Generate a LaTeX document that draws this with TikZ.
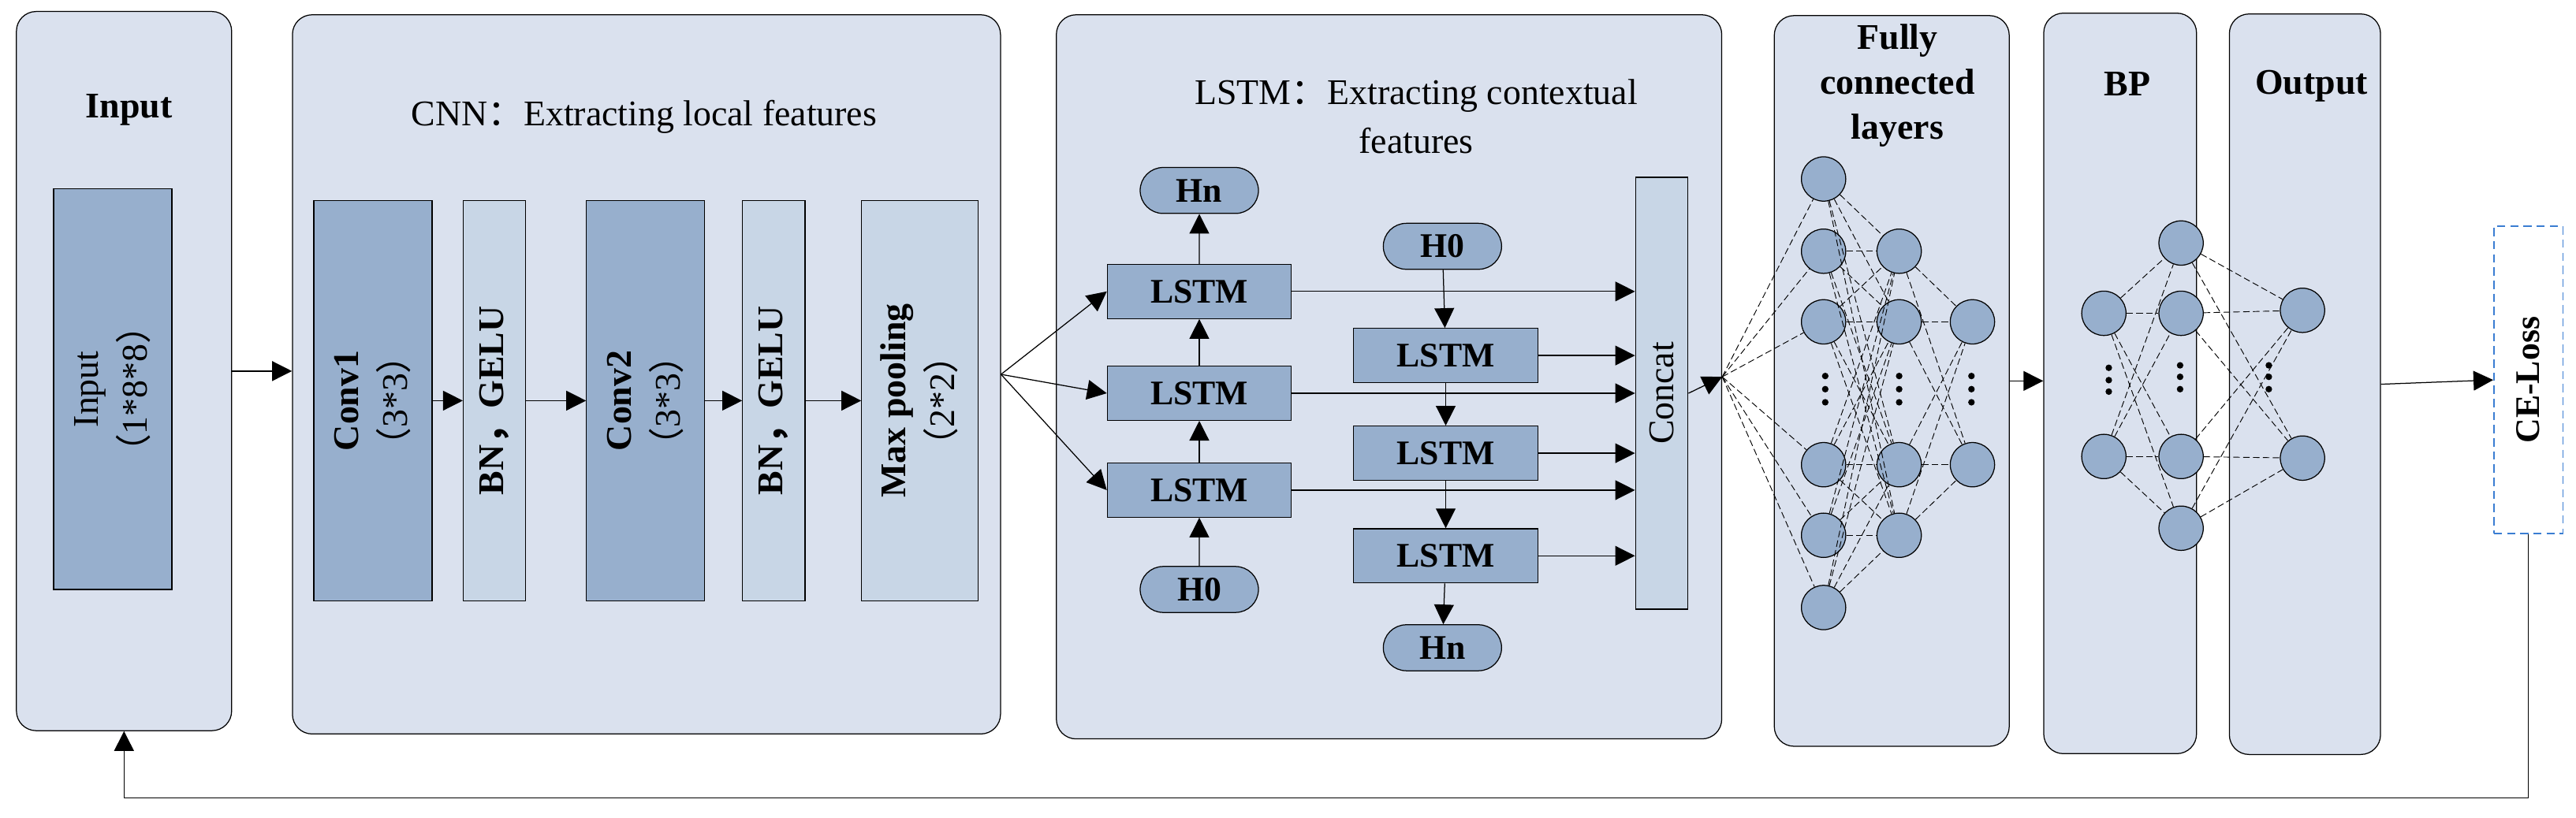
\documentclass[tikz,border=0pt]{standalone}
\usepackage{fontspec}
\setmainfont{Liberation Serif}
\newfontfamily\cjk{Noto Sans CJK SC}
\usepackage{graphicx}
\usepackage{xcolor}
\usepackage{tikz}
\usetikzlibrary{positioning, shapes, shapes.misc, arrows.meta, calc}

\definecolor{panelbg}{RGB}{218,225,238}
\definecolor{boxdark}{RGB}{151,175,205}
\definecolor{boxlight}{RGB}{200,214,230}
\definecolor{lossblue}{RGB}{58,125,210}

\newcommand{\zhcolon}{{\cjk ：}}
\newcommand{\zhcomma}{{\cjk ，}}
\newcommand{\zhlp}{{\cjk （}}
\newcommand{\zhrp}{{\cjk ）}}

\tikzset{
  panel/.style={draw, fill=panelbg, rounded corners=12pt, line width=0.6pt},
  darkbox/.style={draw, fill=boxdark, inner sep=0pt, line width=0.6pt, font=\fontsize{22}{30}\selectfont},
  lightbox/.style={draw, fill=boxlight, inner sep=0pt, line width=0.6pt, font=\fontsize{22}{30}\selectfont},
  lstmcell/.style={draw, fill=boxdark, minimum width=112pt, minimum height=33pt, inner sep=0pt, line width=0.6pt, font=\fontsize{21}{25}\selectfont\bfseries},
  hstate/.style={rounded rectangle, draw, fill=boxdark, minimum width=72pt, minimum height=28pt, inner sep=0pt, line width=0.6pt, font=\fontsize{21}{25}\selectfont\bfseries},
  neuron/.style={circle, draw, fill=boxdark, minimum size=27pt, inner sep=0pt, line width=0.6pt},
  conn/.style={dash pattern=on 4pt off 2pt, line width=0.45pt},
  arr/.style={-{Triangle[length=12pt,width=12pt]}, line width=0.6pt},
  paneltitle/.style={font=\fontsize{22}{27.5}\selectfont, align=center}
}

\begin{document}
\begin{tikzpicture}[x=1pt, y=-1pt]
  \useasboundingbox (0,0) rectangle (1568,498);

  % Panels
  \node[panel, minimum width=131pt, minimum height=438pt] (inpanel) at (75.5,226) {};
  \node[panel, minimum width=431pt, minimum height=438pt] (cnnpanel) at (393.5,228) {};
  \node[panel, minimum width=405pt, minimum height=441pt] (lstmpanel) at (845.5,229.5) {};
  \node[panel, minimum width=143pt, minimum height=445pt] (fcpanel) at (1151.5,232) {};
  \node[panel, minimum width=93pt, minimum height=451pt] (bppanel) at (1290.5,233.5) {};
  \node[panel, minimum width=92pt, minimum height=451pt] (outpanel) at (1403,234) {};

  % Titles
  \node[paneltitle] (intitle) at (78.5,67) {\textbf{Input}};
  \node[paneltitle] (cnntitle) at (392,71) {CNN\zhcolon Extracting local features};
  \node[paneltitle, font=\fontsize{22}{30}\selectfont] (lstmtitle) at (862,71) {LSTM\zhcolon Extracting contextual\\features};
  \node[paneltitle] (fctitle) at (1155,52) {\textbf{Fully}\\\textbf{connected}\\\textbf{layers}};
  \node[paneltitle] (bptitle) at (1295,51) {\textbf{BP}};
  \node[paneltitle] (outtitle) at (1407,52.5) {\textbf{Output}};

  % Input and CNN
  \node[darkbox, minimum width=72pt, minimum height=244pt] (inbox) at (68.6,237)
    {\rotatebox{90}{\begin{tabular}{@{}c@{}}Input\\\zhlp 1*8*8\zhrp\end{tabular}}};
  \node[darkbox, minimum width=72pt, minimum height=244pt] (conv1) at (227,244)
    {\rotatebox{90}{\begin{tabular}{@{}c@{}}\textbf{Conv1}\\\zhlp 3*3\zhrp\end{tabular}}};
  \node[lightbox, minimum width=38pt, minimum height=244pt] (bn1) at (301,244)
    {\rotatebox{90}{\textbf{BN\zhcomma GELU}}};
  \node[darkbox, minimum width=72pt, minimum height=244pt] (conv2) at (393,244)
    {\rotatebox{90}{\begin{tabular}{@{}c@{}}\textbf{Conv2}\\\zhlp 3*3\zhrp\end{tabular}}};
  \node[lightbox, minimum width=38pt, minimum height=244pt] (bn2) at (471,244)
    {\rotatebox{90}{\textbf{BN\zhcomma GELU}}};
  \node[lightbox, minimum width=71pt, minimum height=244pt] (pool) at (560,244)
    {\rotatebox{90}{\begin{tabular}{@{}c@{}}\textbf{Max pooling}\\\zhlp 2*2\zhrp\end{tabular}}};

  \draw[arr] (inpanel.east) -- (inpanel.east -| cnnpanel.west);
  \draw[arr] (conv1) -- (bn1);
  \draw[arr] (bn1) -- (conv2);
  \draw[arr] (conv2) -- (bn2);
  \draw[arr] (bn2) -- (pool);

  % LSTM
  \node[hstate] (hnA) at (730,116) {Hn};
  \node[lstmcell] (lstmA1) at (730,177.5) {LSTM};
  \node[lstmcell] (lstmA2) at (730,239.5) {LSTM};
  \node[lstmcell] (lstmA3) at (730,298.5) {LSTM};
  \node[hstate] (h0A) at (730,359) {H0};

  \node[hstate] (h0B) at (878,150) {H0};
  \node[lstmcell] (lstmB1) at (880,216.5) {LSTM};
  \node[lstmcell] (lstmB2) at (880,276) {LSTM};
  \node[lstmcell] (lstmB3) at (880,338.5) {LSTM};
  \node[hstate] (hnB) at (878,394.5) {Hn};

  \node[lightbox, minimum width=32pt, minimum height=263pt] (concat) at (1011.5,239.5)
    {\rotatebox{90}{Concat}};

  \coordinate (cnnout) at (cnnpanel.east);
  \foreach \k in {1,2,3}
    \draw[arr] (cnnout) -- (lstmA\k.west);

  \draw[arr] (h0A) -- (lstmA3);
  \draw[arr] (lstmA3) -- (lstmA2);
  \draw[arr] (lstmA2) -- (lstmA1);
  \draw[arr] (lstmA1) -- (hnA);
  \draw[arr] (h0B) -- (lstmB1);
  \draw[arr] (lstmB1) -- (lstmB2);
  \draw[arr] (lstmB2) -- (lstmB3);
  \draw[arr] (lstmB3) -- (hnB);

  \foreach \c in {lstmA1,lstmA2,lstmA3,lstmB1,lstmB2,lstmB3}
    \draw[arr] (\c.east) -- (\c.east -| concat.west);

  \coordinate (fcin) at (lstmpanel.east);
  \draw[arr] (concat.east) -- (fcin);

  % Fully connected layers
  \foreach \y [count=\i] in {109,153,196,283,326,370}
    \node[neuron] (fa\i) at (1110,\y) {};
  \foreach \y [count=\i] in {153,196,283,326}
    \node[neuron] (fb\i) at (1156,\y) {};
  \foreach \y [count=\i] in {196,283}
    \node[neuron] (fc\i) at (1200.6,\y) {};

  \foreach \i in {1,...,6} {
    \draw[conn] (fcin) -- (fa\i);
    \foreach \j in {1,...,4}
      \draw[conn] (fa\i) -- (fb\j);
  }
  \foreach \i in {1,...,4}
    \foreach \j in {1,2}
      \draw[conn] (fb\i) -- (fc\j);

  \foreach \x in {1111,1156,1200}
    \foreach \y in {229,237,245}
      \fill (\x,\y) circle (2pt);

  \draw[arr] (fcpanel.east) -- (fcpanel.east -| bppanel.west);

  % BP and output
  \foreach \y [count=\i] in {190.8,278}
    \node[neuron] (ba\i) at (1280.6,\y) {};
  \foreach \y [count=\i] in {148,190.8,278,321.7}
    \node[neuron] (bb\i) at (1327.6,\y) {};
  \foreach \y [count=\i] in {189,279}
    \node[neuron] (oa\i) at (1401.5,\y) {};

  \foreach \i in {1,2}
    \foreach \j in {1,...,4}
      \draw[conn] (ba\i) -- (bb\j);
  \foreach \i in {1,...,4}
    \foreach \j in {1,2}
      \draw[conn] (bb\i) -- (oa\j);

  \foreach \y in {224,231.5,238.5}
    \fill (1283.6,\y) circle (2pt);
  \foreach \x in {1327,1381}
    \foreach \y in {222.5,229.5,237}
      \fill (\x,\y) circle (2pt);

  % Loss and feedback
  \node[draw=lossblue, fill=white, dash pattern=on 5pt off 3pt, line width=0.8pt,
    minimum width=42pt, minimum height=187pt, inner sep=0pt,
    font=\fontsize{21}{25}\selectfont\bfseries] (loss) at (1539,231.4)
    {\rotatebox{90}{CE-Loss}};
  \draw[arr] (outpanel.east) -- (loss.west);

  \coordinate (fbline) at (0,486);
  \draw[arr] (loss.south) -- (loss.south |- fbline) -| (inpanel.south);
\end{tikzpicture}
\end{document}
